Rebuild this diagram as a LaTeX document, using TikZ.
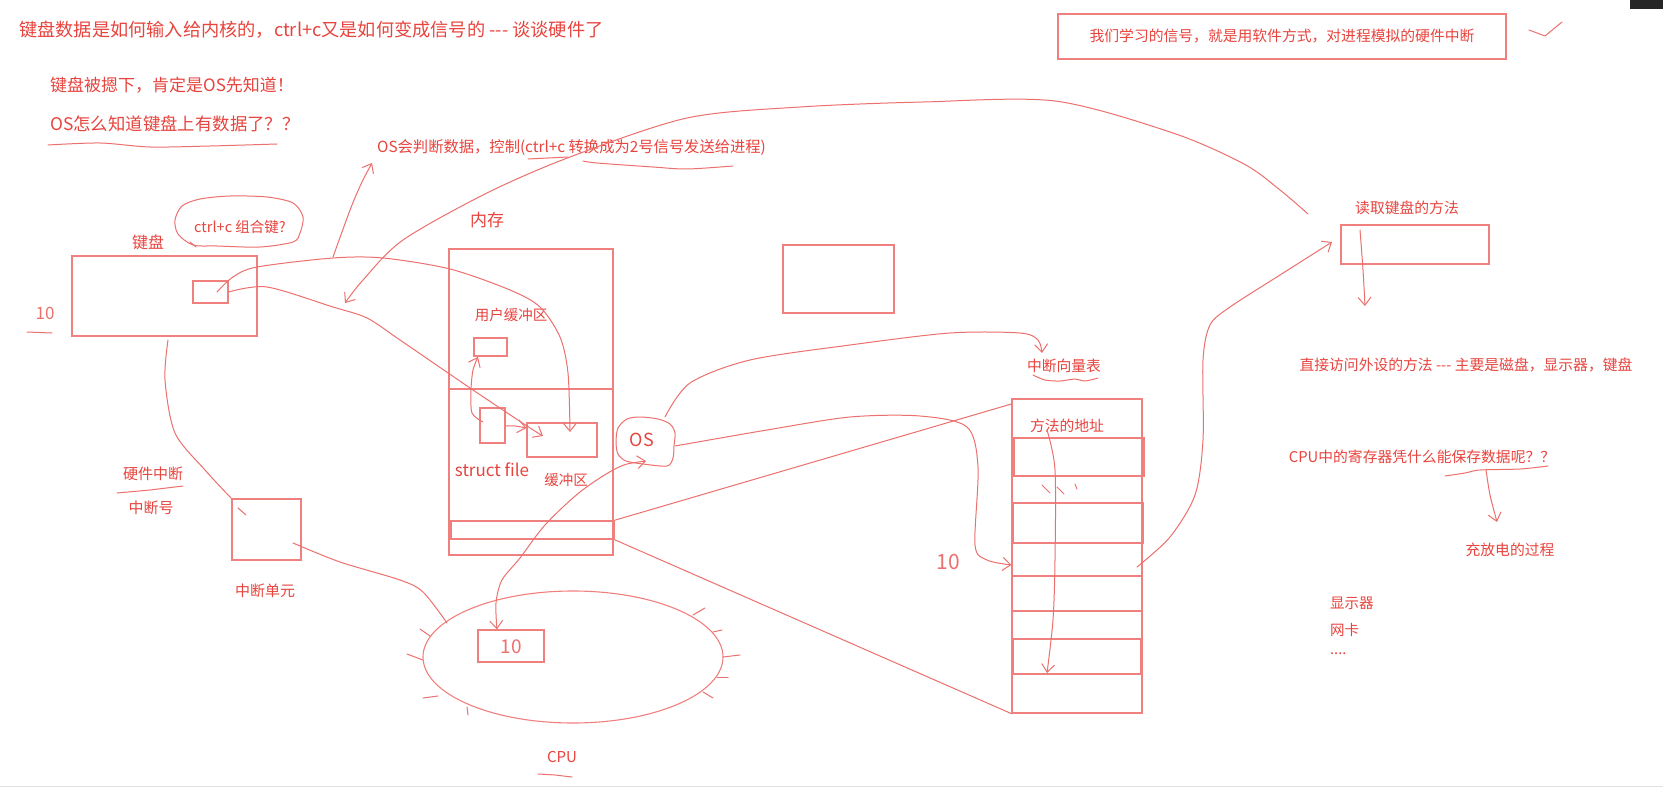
\documentclass[tikz,border=0pt]{standalone}
\usepackage{fontspec}
\setmainfont{Noto Sans CJK SC}
\usetikzlibrary{arrows.meta,shapes.geometric}
\definecolor{ink}{RGB}{232,68,62}
\definecolor{pen}{RGB}{236,112,110}
\definecolor{boxc}{RGB}{240,128,126}
\newcommand\fsz[1]{\fontsize{#1}{#1}\selectfont}
\newcommand\hy{{-}{-}{-}}
\tikzset{
  lbl/.style={text=ink, inner sep=0pt, font=\fsz{15}},
  hw/.style={text=pen, inner sep=0pt, font=\fsz{19}},
  ln/.style={draw=pen, line width=1pt, line cap=round, line join=round},
  bx/.style={draw=boxc, line width=1.2pt, inner sep=0pt, fill=none},
  tip/.style={-{Straight Barb[length=8pt,width=13pt]}},
  tips/.style={{Straight Barb[length=8pt,width=13pt]}-{Straight Barb[length=8pt,width=13pt]}},
}
\begin{document}
\begin{tikzpicture}[x=1pt,y=-1pt]
\fill[white] (0,0) rectangle (1663,789);
\useasboundingbox (0,0) rectangle (1663,789);
% screen artefacts
\fill[black!85] (1630,0) rectangle (1663,9);
\draw[black!12, line width=1pt] (0,786) -- (1663,786);

% ---------- texts top left ----------
\node[lbl, anchor=west, font=\fsz{18.2}] (title) at (19,30) {键盘数据是如何输入给内核的，ctrl+c又是如何变成信号的 \hy{} 谈谈硬件了};
\node[lbl, anchor=west, font=\fsz{17}] (l2) at (50,85) {键盘被摁下，肯定是OS先知道！};
\node[lbl, anchor=west, font=\fsz{17.4}] (l3) at (50,124) {OS怎么知道键盘上有数据了？？};
\draw[ln] plot[smooth] coordinates {(48,145) (100,143) (150,147) (210,146) (277,144)};
\node[lbl, anchor=west, font=\fsz{15.3}] (osjudge) at (377,148) {OS会判断数据，控制(ctrl+c 转换成为2号信号发送给进程)};
\draw[ln] (528,159) -- (568,157);
\draw[ln] plot[smooth] coordinates {(583,161) (597,163) (653,167) (687,169) (733,166)};

% ---------- top right ----------
\node[bx, minimum width=448pt, minimum height=45pt] (topbox) at (1282,36.5) {};
\node[lbl, font=\fsz{14.8}] (toptext) at (topbox) {我们学习的信号，就是用软件方式，对进程模拟的硬件中断};
\draw[ln] (1529,30) -- (1545,36) -- (1562,22);

% ---------- keyboard ----------
\node[bx, minimum width=185pt, minimum height=80pt] (kb) at (164.5,296) {};
\node[bx, minimum width=35pt, minimum height=22pt] (kbkey) at (210.5,292) {};
\node[lbl, font=\fsz{16}] (kblabel) at (148,242) {键盘};
\node[lbl, font=\fsz{14.5}] (ctrlc) at (240,227) {ctrl+c 组合键?};
\draw[ln] plot[smooth cycle] coordinates {(193,245) (178,234) (175,220) (182,206) (200,199) (230,196) (267,197) (293,203) (303,217) (300,233) (293,242) (260,247) (217,246)};
\draw[ln] (190,242) -- (196,247);
\node[hw, font=\fsz{17}] (io) at (45,313) {10};
\draw[ln] (27,332) -- (52,333);

% ---------- interrupt unit ----------
\node[bx, minimum width=69pt, minimum height=61pt] (intunit) at (266.5,529.5) {};
\node[lbl] (intunitlbl) at (265,591) {中断单元};
\node[lbl] (hwint) at (153,474) {硬件中断};
\draw[ln] (117,493) -- (150,490) -- (183,486);
\node[lbl] (intnum) at (151,508) {中断号};

% ---------- memory ----------
\node[bx, minimum width=164pt, minimum height=306pt] (mem) at (531,402) {};
\draw[bx] (mem.west |- 0,389) -- (mem.east |- 0,389);
\node[bx, line width=1.6pt, minimum width=163pt, minimum height=18pt] (strip) at (532.5,530) {};
\node[lbl, font=\fsz{17}] (memlbl) at (487,220) {内存};
\node[lbl, font=\fsz{14.5}] (ubuflbl) at (511,315) {用户缓冲区};
\node[bx, minimum width=33pt, minimum height=18pt] (ubuf) at (490.5,347) {};
\node[bx, minimum width=25pt, minimum height=35pt] (sf) at (492.5,425.5) {};
\node[bx, minimum width=70pt, minimum height=34pt] (kbuf) at (562,440) {};
\node[lbl, font=\fsz{17}] (sflbl) at (492,470) {struct file};
\node[lbl, font=\fsz{14.5}] (kbuflbl) at (566,480) {缓冲区};

% ---------- OS ----------
\node[lbl, font=\fsz{18}] (os) at (642,440) {OS};
\draw[ln] plot[smooth cycle] coordinates {(627,419) (618,428) (616,442) (618,454) (626,461) (643,464) (667,466) (673,458) (674,446) (675,433) (670,424) (658,419) (640,417)};

% empty box
\node[bx, minimum width=111pt, minimum height=68pt] (empty) at (838.5,279) {};

% ---------- vector table ----------
\node[bx, minimum width=130pt, minimum height=314pt] (vt) at (1077,556) {};
\node[bx, minimum width=130pt, minimum height=38pt] (r1) at (1079,457) {};
\node[bx, minimum width=130pt, minimum height=40pt] (r2) at (1078,523) {};
\node[bx, minimum width=130pt, minimum height=35pt] (r3) at (1077,593.5) {};
\node[bx, minimum width=128pt, minimum height=35pt] (r4) at (1077,656.5) {};
\node[lbl, font=\fsz{14.8}] (vtlbl) at (1064,366) {中断向量表};
\draw[ln] plot[smooth] coordinates {(1033,375) (1045,380) (1060,381) (1075,379) (1085,381) (1098,378)};
\node[lbl, font=\fsz{14.8}] (addr) at (1067,426) {方法的地址};
\draw[ln] (1042,485) -- (1050,493);
\draw[ln] (1057,487) -- (1064,494);
\draw[ln] (1075,484) -- (1077,489);
\node[hw, font=\fsz{21}] (ten) at (948,562) {10};

% ---------- right side ----------
\node[bx, minimum width=148pt, minimum height=39pt] (readkb) at (1415,244.5) {};
\node[lbl, font=\fsz{14.8}] (readkblbl) at (1407,208) {读取键盘的方法};
\node[lbl, font=\fsz{14.8}] (direct) at (1466,365) {直接访问外设的方法 \hy{} 主要是磁盘，显示器，键盘};
\node[lbl, font=\fsz{14.8}] (cpuq) at (1422,457) {CPU中的寄存器凭什么能保存数据呢？？};
\draw[ln] plot[smooth] coordinates {(1445,476) (1465,473) (1480,470) (1520,469) (1548,466)};
\node[lbl, font=\fsz{14.8}] (charge) at (1510,550) {充放电的过程};
\node[lbl, anchor=west, font=\fsz{14.5}] (disp) at (1330,603) {显示器};
\node[lbl, anchor=west, font=\fsz{14.5}] (nic) at (1330,630) {网卡};
\node[lbl, anchor=west, font=\fsz{14.5}] (dots) at (1330,654) {....};

% ---------- CPU ----------
\node[draw=boxc, line width=1.1pt, ellipse, minimum width=300pt, minimum height=132pt, inner sep=0pt] (cpu) at (573,657) {};
\node[bx, minimum width=66pt, minimum height=32pt] (idbox) at (511,646) {};
\node[hw, font=\fsz{19}] (idtxt) at (511,647) {10};
\node[lbl, font=\fsz{15}] (cpulbl) at (562,757) {CPU};
\draw[ln] (538,774) -- (555,775) -- (572,777);
\foreach \a/\b in {{(420,629)}/{(430,636)}, {(407,654)}/{(423,660)}, {(423,698)}/{(438,696)}, {(467,707)}/{(468,715)}, {(693,615)}/{(705,608)}, {(713,632)}/{(722,630)}, {(723,657)}/{(740,655)}, {(717,677)}/{(728,677)}, {(703,692)}/{(713,698)}}
  \draw[ln] \a -- \b;

% ---------- connectors ----------
% keyboard -> OS judge text
\coordinate (aS) at (333,257);
\coordinate (aE) at (372,163);
\draw[ln,tip] plot[smooth] coordinates {(aS) (342,232) (352,205) (362,182) (aE)};
% big arc from read-keyboard method to keyboard
\coordinate (bS) at (1308,214);
\coordinate (bE) at (345,303);
\draw[ln,tip] plot[smooth] coordinates {(bS) (1280,190) (1244,164) (1173,133) (1055,101) (923,102) (800,107) (687,118) (570,157) (487,193) (403,240) (363,280) (bE)};
% key -> kernel buffer (lower)
\draw[ln,tip] plot[smooth] coordinates {(kbkey.east) (267,287) (333,307) (367,318) (400,340) (473,390) (527,426) (543,436)};
% key -> kernel buffer (upper)
\coordinate (dS) at (217,292);
\draw[ln,tip] plot[smooth] coordinates {(dS) (233,277) (257,267) (333,258) (383,258) (450,269) (510,290) (540,307) (560,337) (568,373) (570,432)};
% struct file -> user buffer
\draw[ln,tip] plot[smooth] coordinates {(483,422) (472,413) (471,390) (473,370) (478,357)};
% struct file -> kernel buffer
\draw[ln,tip] plot[smooth] coordinates {(sf.east |- 0,426) (515,426) (kbuf.west |- 0,428)};
% keyboard -> interrupt unit
\draw[ln] plot[smooth] coordinates {(168,340) (165,380) (175,433) (205,470) (intunit.north west)};
\draw[ln] (238,508) -- (246,515);
% interrupt unit -> CPU
\draw[ln] plot[smooth] coordinates {(293,543) (340,562) (400,580) (423,592) (447,623)};
% OS <-> ID
\draw[ln,tips] plot[smooth] coordinates {(646,461) (617,468) (580,492) (545,525) (520,558) (502,580) (496,603) (idbox.north -| 497,0)};
% OS -> vector table label
\draw[ln,tip] plot[smooth] coordinates {(665,417) (690,383) (750,360) (850,345) (950,333) (1020,333) (1038,340) (1042,353)};
% OS -> vector table entry (10)
\draw[ln,tip] plot[smooth] coordinates {(675,446) (767,430) (850,417) (920,416) (967,427) (978,467) (975,545) (987,560) (vt.west |- 0,565)};
% strip -> vector table
\draw[ln] (strip.north east) -- (vt.north west |- 0,404);
\draw[ln] (strip.south east) -- (vt.south west);
% inside vector table
\draw[ln,tip] plot[smooth] coordinates {(1047,430) (1055,470) (1055,560) (1053,620) (1047,673)};
% vector table -> read keyboard method
\draw[ln,tip] plot[smooth] coordinates {(1137,567) (1170,537) (1195,495) (1203,440) (1203,360) (1210,325) (1230,307) (1280,275) (1332,242)};
% read keyboard -> direct access
\draw[ln,tip] plot[smooth] coordinates {(1360,230) (1363,270) (1365,306)};
% cpu question -> charge
\draw[ln,tip] plot[smooth] coordinates {(1486,470) (1490,495) (1497,522)};
\end{tikzpicture}
\end{document}
